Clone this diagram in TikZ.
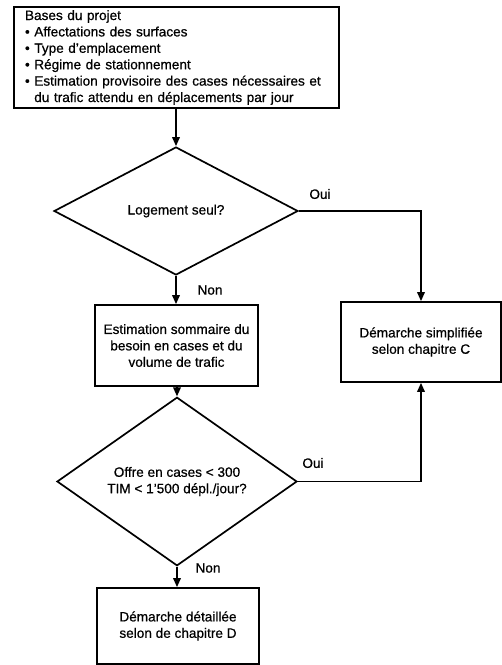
\documentclass[tikz,border=0pt]{standalone}
\usepackage{fontspec}
\setmainfont{Liberation Sans}[FakeBold=0.6]
\usetikzlibrary{shapes.geometric,arrows.meta}

\tikzset{
  box/.style={draw, line width=1.7pt, inner sep=0pt, align=center},
  decision/.style={draw, diamond, line width=1.7pt, inner sep=0pt, align=center},
  flow/.style={line width=1.7pt, -{Triangle[length=9pt,width=7.5pt]}},
  branch/.style={inner sep=0pt},
}

\begin{document}
\begin{tikzpicture}[x=1pt,y=-1pt,font=\fontsize{13.6}{16.4}\selectfont]
  \useasboundingbox (0,0) rectangle (502,665);

  % project inputs
  \node[box, minimum width=325pt, minimum height=101pt, text width=303pt, align=left] (bases) at (176.5,57.5)
    {Bases du projet\\
     \textbullet\ Affectations des surfaces\\
     \textbullet\ Type d’emplacement\\
     \textbullet\ Régime de stationnement\\
     \textbullet\ Estimation provisoire des cases nécessaires et\\
     \phantom{\textbullet\ }du trafic attendu en déplacements par jour};

  % first decision
  \node[decision, minimum width=244pt, minimum height=128pt] (logement) at (176,211) {Logement seul?};

  % rough estimate
  \node[box, minimum width=163pt, minimum height=81pt] (estim) at (176.5,345.5)
    {Estimation sommaire du\\besoin en cases et du\\volume de trafic};

  % simplified procedure
  \node[box, minimum width=160pt, minimum height=80pt] (simple) at (421,342)
    {Démarche simplifiée\\selon chapitre C};

  % second decision
  \node[decision, minimum width=240pt, minimum height=133pt] (offre) at (177,481.5)
    {Offre en cases < 300\\TIM < 1’500 dépl./jour?};

  % detailed procedure
  \node[box, minimum width=162pt, minimum height=76pt] (detail) at (178,626)
    {Démarche détaillée\\selon de chapitre D};

  % connectors
  \draw[flow] (bases.south -| logement.north) -- (logement.north);
  \draw[flow] (logement.south) -- (logement.south |- estim.north);
  \draw[flow] (logement.east) -| (simple.north);
  \draw[flow] (estim.south -| offre.north) -- (offre.north);
  \draw[flow] (offre.east) -| (simple.south);
  \draw[flow] (offre.south) -- (offre.south |- detail.north);

  % branch labels
  \node[branch] (oui1) at (320,194) {Oui};
  \node[branch] (non1) at (210,290) {Non};
  \node[branch] (oui2) at (313,463) {Oui};
  \node[branch] (non2) at (208,568) {Non};
\end{tikzpicture}
\end{document}
